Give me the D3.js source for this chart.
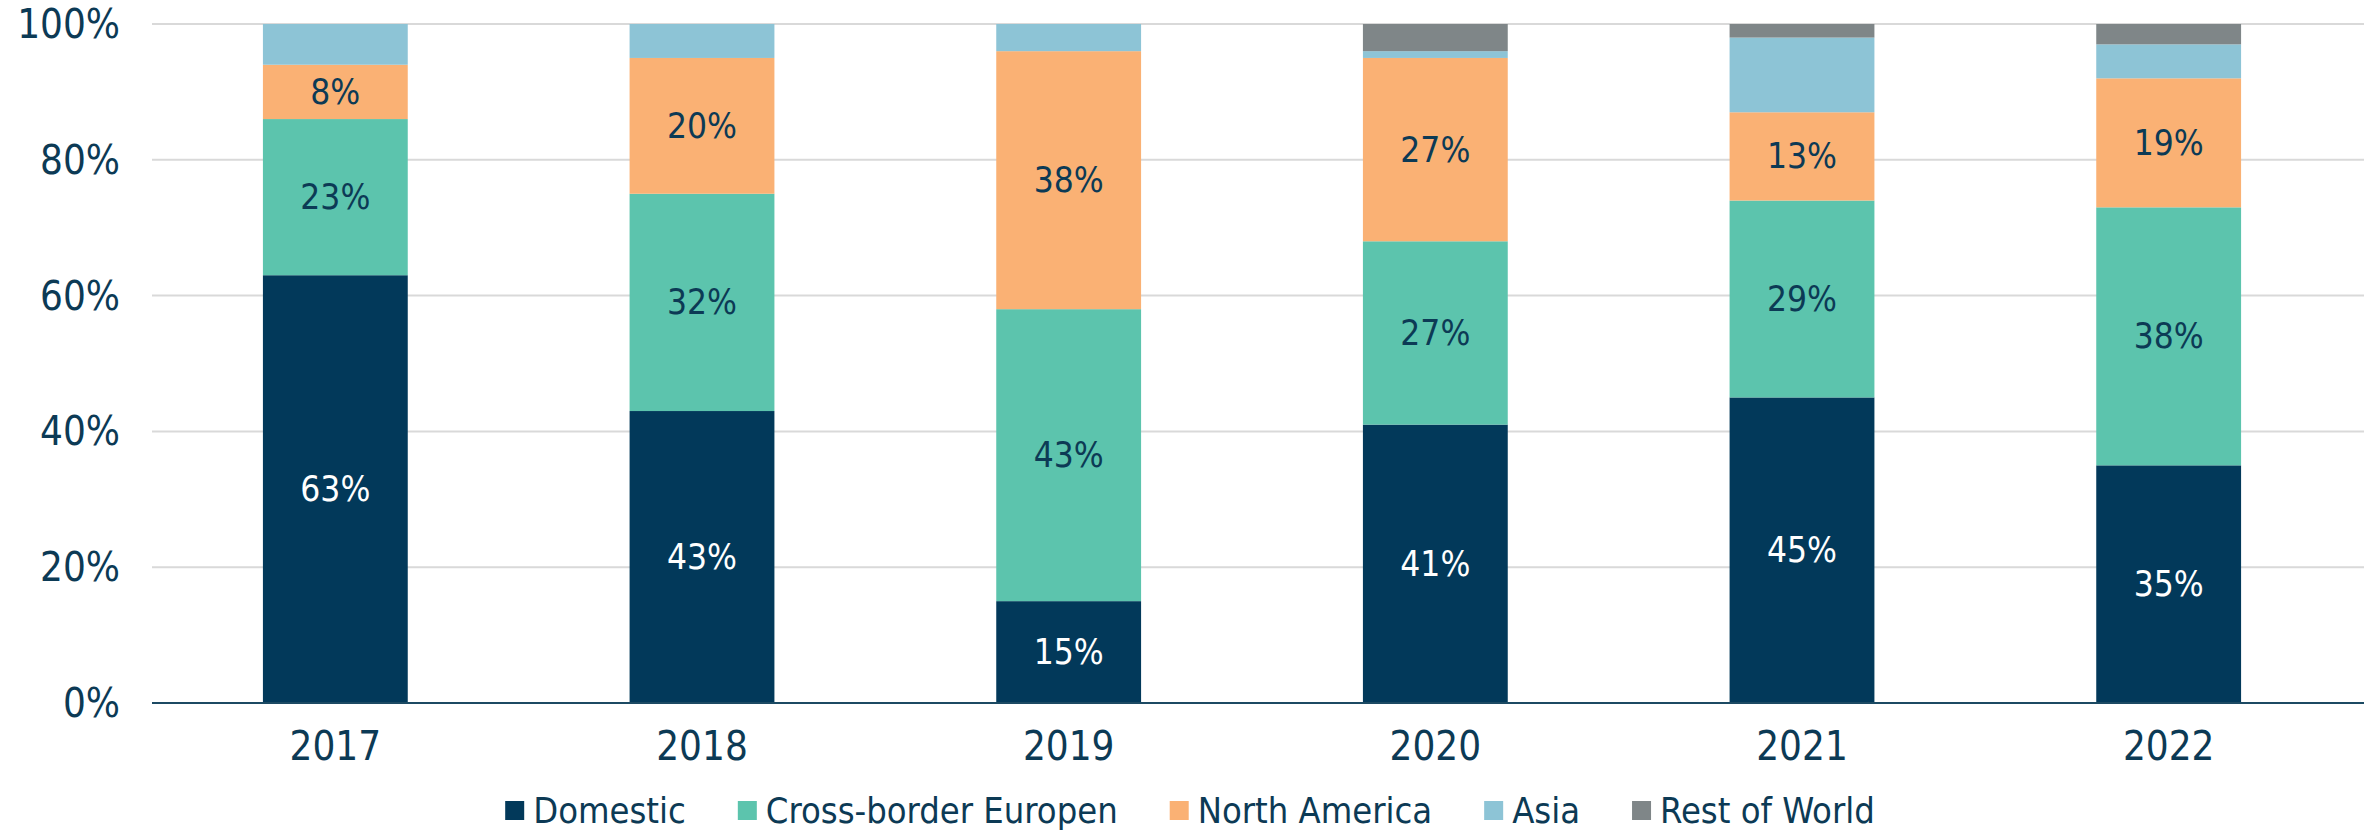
<!DOCTYPE html>
<html>
<head>
<meta charset="utf-8">
<script src="https://cdn.jsdelivr.net/npm/d3@7"></script>
<style>
    html, body { margin: 0; padding: 0; background: #fff; }
    svg text { font-family: "DejaVu Sans Condensed", "Liberation Sans Narrow", sans-serif; }
</style>
</head>
<body>
<svg id="chart" width="2364" height="834"></svg>
<script>
    'use strict';

    // data
    var years = ['2017', '2018', '2019', '2020', '2021', '2022'];
    var seriesNames = ['Domestic', 'Cross-border Europen', 'North America', 'Asia', 'Rest of World'];
    var domestic = [63, 43, 15, 41, 45, 35];
    var crossBorder = [23, 32, 43, 27, 29, 38];
    var northAmerica = [8, 20, 38, 27, 13, 19];
    var asia = [6, 5, 4, 1, 11, 5];
    var restOfWorld = [0, 0, 0, 4, 2, 3];
    var yTicks = [0, 20, 40, 60, 80, 100];
    var labelled = ['Domestic', 'Cross-border Europen', 'North America'];

    var colors = {
        'Domestic': '#02395a',
        'Cross-border Europen': '#5cc4ad',
        'North America': '#fab174',
        'Asia': '#8dc4d6',
        'Rest of World': '#7f8688'
    };
    var textColor = '#0c3a55';

    var rows = years.map(function(y, i) {
        return {
            year: y,
            'Domestic': domestic[i],
            'Cross-border Europen': crossBorder[i],
            'North America': northAmerica[i],
            'Asia': asia[i],
            'Rest of World': restOfWorld[i]
        };
    });

    var svg = d3.select('#chart');
    var plotLeft = 152, plotRight = 2352, plotTop = 24, plotBottom = 703;

    var x = d3.scaleBand().domain(years).range([plotLeft, plotRight]).paddingInner(0.605).paddingOuter(0.3025);
    var y = d3.scaleLinear().domain([0, 100]).range([plotBottom, plotTop]);

    // gridlines
    svg.append('g')
        .selectAll('line')
        .data(yTicks.filter(function(d) { return d > 0; }))
        .enter().append('line')
        .attr('x1', plotLeft).attr('x2', 2364)
        .attr('y1', function(d) { return y(d); })
        .attr('y2', function(d) { return y(d); })
        .attr('stroke', '#d9d9d9')
        .attr('stroke-width', 2);

    // y labels
    svg.append('g')
        .selectAll('text')
        .data(yTicks)
        .enter().append('text')
        .attr('x', 120)
        .attr('y', function(d) { return y(d) + 14; })
        .attr('text-anchor', 'end')
        .attr('font-size', 40)
        .attr('fill', textColor)
        .text(function(d) { return d + '%'; });

    var stack = d3.stack().keys(seriesNames);
    var layers = stack(rows);

    var g = svg.append('g');
    layers.forEach(function(layer) {
        var key = layer.key;
        g.selectAll('rect.s' + seriesNames.indexOf(key))
            .data(layer.filter(function(d) { return d[1] > d[0]; }))
            .enter().append('rect')
            .attr('x', function(d) { return x(d.data.year); })
            .attr('width', x.bandwidth())
            .attr('y', function(d) { return y(d[1]); })
            .attr('height', function(d) { return y(d[0]) - y(d[1]); })
            .attr('fill', colors[key]);

        if (labelled.indexOf(key) >= 0) {
            g.selectAll('text.s' + seriesNames.indexOf(key))
                .data(layer)
                .enter().append('text')
                .attr('x', function(d) { return x(d.data.year) + x.bandwidth() / 2; })
                .attr('y', function(d) { return (y(d[0]) + y(d[1])) / 2 + 12; })
                .attr('text-anchor', 'middle')
                .attr('font-size', 35)
                .attr('fill', key === 'Domestic' ? '#ffffff' : textColor)
                .text(function(d) { return (d[1] - d[0]) + '%'; });
        }
    });

    // baseline
    svg.append('line')
        .attr('x1', plotLeft).attr('x2', 2364)
        .attr('y1', plotBottom).attr('y2', plotBottom)
        .attr('stroke', '#1c4a63')
        .attr('stroke-width', 2);

    // x labels
    svg.append('g')
        .selectAll('text')
        .data(years)
        .enter().append('text')
        .attr('x', function(d) { return x(d) + x.bandwidth() / 2; })
        .attr('y', 760)
        .attr('text-anchor', 'middle')
        .attr('font-size', 40)
        .attr('fill', textColor)
        .text(function(d) { return d; });

    // legend
    var legend = svg.append('g');
    var sq = 19, gapText = 9, gapItem = 52, cx = 1190;
    var items = legend.selectAll('g')
        .data(seriesNames)
        .enter().append('g');
    items.append('rect')
        .attr('width', sq).attr('height', sq)
        .attr('y', 801)
        .attr('fill', function(d) { return colors[d]; });
    items.append('text')
        .attr('x', sq + gapText)
        .attr('y', 823)
        .attr('font-size', 36)
        .attr('fill', textColor)
        .text(function(d) { return d; });

    var widths = [];
    items.each(function() {
        widths.push(sq + gapText + d3.select(this).select('text').node().getComputedTextLength());
    });
    var total = d3.sum(widths) + gapItem * (widths.length - 1);
    var pos = cx - total / 2;
    items.attr('transform', function(d, i) {
        var t = 'translate(' + pos + ',0)';
        pos += widths[i] + gapItem;
        return t;
    });
</script>
</body>
</html>
